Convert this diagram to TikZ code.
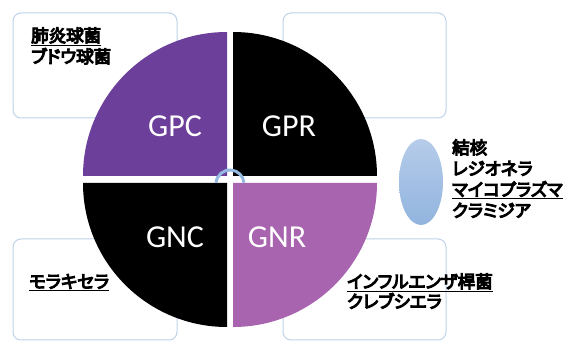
\documentclass[tikz,border=0pt]{standalone}
\usepackage{fontspec}
\setmainfont{Carlito}
\newfontfamily\jpfont{Noto Sans CJK JP}[RawFeature=+palt,FakeBold=6]
\usetikzlibrary{shapes.geometric}
\definecolor{gpcc}{RGB}{107,63,154}
\definecolor{gnrc}{RGB}{168,100,175}
\definecolor{boxline}{RGB}{190,210,234}
\definecolor{arcc}{RGB}{150,185,225}
\definecolor{elltop}{RGB}{182,204,234}
\definecolor{ellbot}{RGB}{145,180,222}
\begin{document}
\begin{tikzpicture}[x=1pt,y=-1pt,
  framebox/.style={draw=boxline,line width=1pt,rounded corners=8pt,fill=white},
  quadlabel/.style={text=white,font=\fontsize{32}{34}\selectfont,inner sep=0pt},
  jptext/.style={font=\jpfont\fontsize{17.5}{21}\selectfont,anchor=base west,inner sep=0pt,text=black}]
\useasboundingbox (0,0) rectangle (566,342);
\fill[white] (0,0) rectangle (566,342);
% boxes
\draw[framebox] (13,13) rectangle (177,118);
\draw[framebox] (283,13) rectangle (446,118);
\draw[framebox] (13,239) rectangle (177,340);
\draw[framebox] (283,239) rectangle (446,340);
% quadrants
\fill[gpcc] (227,176) -- (83,176) arc[start angle=180,end angle=270,radius=144] -- cycle;
\fill[black] (233,176) -- (233,32) arc[start angle=270,end angle=360,radius=144] -- cycle;
\fill[black] (227,183) -- (83,183) arc[start angle=180,end angle=90,radius=144] -- cycle;
\fill[gnrc] (233,183) -- (377,183) arc[start angle=0,end angle=90,radius=144] -- cycle;
% centre arc
\draw[arcc,line width=3pt] (230,184) ++(185:14) arc[start angle=185,end angle=355,radius=14];
% labels
\node[quadlabel] (gpc) at (175,126) {GPC};
\node[quadlabel] (gpr) at (289,126) {GPR};
\node[quadlabel] (gnc) at (175,237) {GNC};
\node[quadlabel] (gnr) at (277,237) {GNR};
% ellipse
\node[ellipse,minimum width=44pt,minimum height=86pt,top color=elltop,bottom color=ellbot,draw=none,inner sep=0pt] (ell) at (421,182) {};
% texts
\node[jptext] (tl1) at (31,42) {\underline{肺炎球菌}};
\node[jptext] (tl2) at (31,63) {ブドウ球菌};
\node[jptext] (tr1) at (452,154) {結核};
\node[jptext] (tr2) at (452,175) {レジオネラ};
\node[jptext] (tr3) at (452,196) {\underline{マイコプラズマ}};
\node[jptext] (tr4) at (452,217) {クラミジア};
\node[jptext] (bl1) at (29,288) {\underline{モラキセラ}};
\node[jptext] (br1) at (347,288) {\underline{インフルエンザ桿菌}};
\node[jptext] (br2) at (347,308) {クレブシエラ};
\end{tikzpicture}
\end{document}
